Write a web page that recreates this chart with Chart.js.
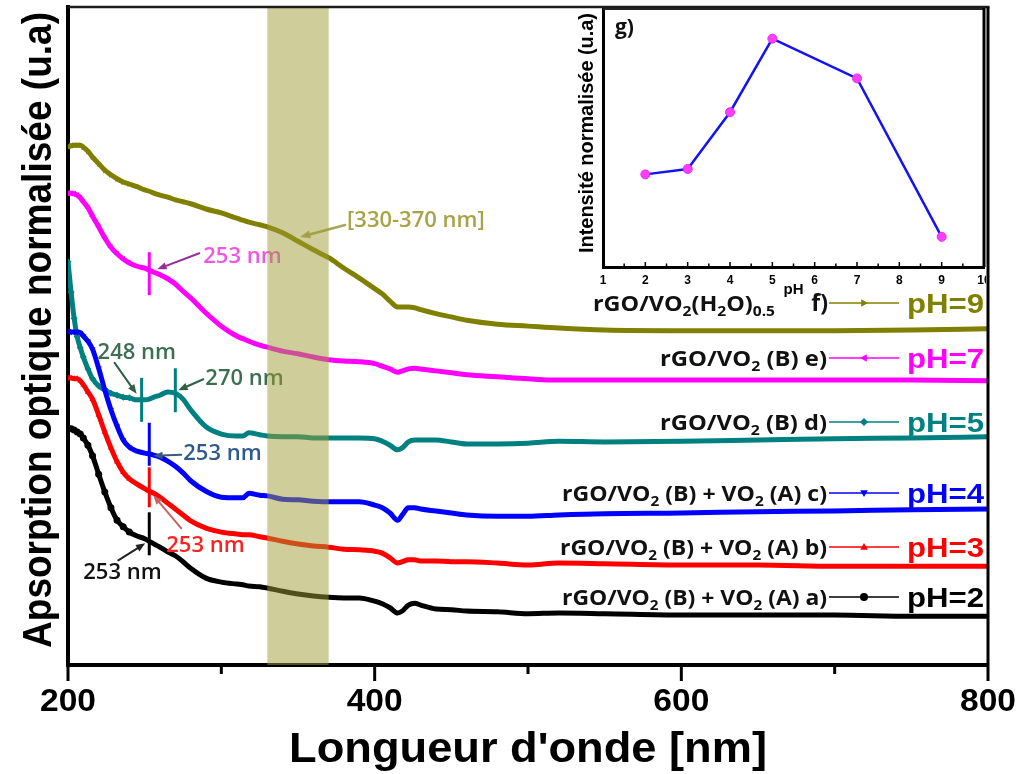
<!DOCTYPE html>
<html>
<head>
<meta charset="utf-8">
<script src="https://cdn.jsdelivr.net/npm/chart.js@4.4.1/dist/chart.umd.min.js"></script>
<style>
  html, body { margin: 0; padding: 0; background: #ffffff; }
  #wrap { position: relative; width: 1020px; height: 774px; overflow: hidden; }
  #main { position: absolute; left: 0; top: 0; }
  #inset { position: absolute; left: 560px; top: 0; }
</style>
</head>
<body>
<div id="wrap">
  <canvas id="main" width="1020" height="774"></canvas>
  <canvas id="inset" width="426" height="300"></canvas>
</div>
<script>
// ---------- spectra: normalised absorbance vs wavelength (nm) ----------
const wavelengths = [200,202,204,206,208,210,213,216,220,224,228,232,236,240,245,250,253,256,260,265,270,275,280,290,300,310,314,318,325,330,340,350,360,370,380,390,400,405,410,415,418,422,426,430,440,450,460,480,500,520,550,600,650,700,750,800];

const absorbancePH2 = [36.0,35.9,35.7,35.4,35.1,34.5,33.4,31.8,29.0,26.3,23.9,22.0,21.0,20.2,19.6,19.2,18.8,18.4,17.9,17.2,16.6,15.7,14.7,13.2,12.6,12.3,12.2,12.0,11.9,11.7,11.2,10.8,10.5,10.3,10.2,10.2,9.7,9.3,8.7,7.9,8.2,9.1,9.4,9.1,8.5,8.4,8.2,8.1,7.8,7.9,7.8,7.6,7.6,7.6,7.4,7.4];
const absorbancePH3 = [43.6,43.6,43.5,43.5,43.2,42.6,41.5,40.4,38.0,35.4,33.0,30.9,29.3,28.3,27.5,26.8,26.4,26.1,25.5,24.6,23.7,22.8,21.9,20.8,20.2,19.9,19.8,19.8,19.5,19.3,18.8,18.4,18.1,17.9,17.6,17.5,17.3,17.0,16.3,15.5,15.7,16.0,16.0,15.8,15.8,15.7,15.7,15.5,15.2,15.5,15.4,15.2,15.2,15.0,15.0,15.0];
const absorbancePH4 = [50.8,50.6,50.6,50.6,50.5,50.0,49.2,48.0,45.1,41.8,38.8,36.3,34.2,33.1,32.5,32.2,32.1,31.9,31.6,31.0,30.2,29.2,28.0,26.4,25.5,25.4,25.4,26.1,25.8,25.7,25.2,25.1,24.9,24.8,24.8,24.8,24.3,23.9,23.1,22.0,22.8,23.9,23.9,23.7,23.4,23.1,22.8,22.6,22.6,22.8,23.0,23.1,23.3,23.4,23.6,23.7];
const absorbancePH5 = [61.3,56.7,52.7,49.9,48.2,46.8,45.0,43.5,42.4,41.8,41.3,41.0,40.7,40.6,40.3,40.3,40.4,40.7,41.0,41.5,41.3,40.4,38.8,36.2,35.1,34.8,34.8,35.3,35.0,34.8,34.7,34.7,34.5,34.5,34.5,34.5,34.4,34.0,33.4,32.7,33.0,33.9,34.2,34.2,34.2,33.9,33.6,33.6,33.7,34.0,33.9,34.0,34.2,34.4,34.5,34.7];
const absorbancePH7 = [71.7,71.7,71.6,71.4,71.0,70.4,69.5,68.2,66.6,64.9,63.5,62.5,61.7,61.1,60.6,60.3,60.0,59.7,59.3,58.7,57.9,56.8,55.8,53.5,51.5,50.0,49.6,49.2,48.6,48.3,47.7,47.3,46.8,46.4,46.2,46.1,45.8,45.4,45.0,44.5,44.7,45.0,45.1,45.0,44.7,44.4,44.1,43.8,43.5,43.3,43.3,43.3,43.3,43.3,43.3,43.2];
const absorbancePH9 = [78.7,78.9,79.0,79.0,79.0,78.7,78.1,77.2,76.2,75.2,74.5,73.9,73.4,73.1,72.7,72.2,72.0,71.7,71.4,71.1,70.7,70.4,70.1,69.3,68.7,67.9,67.6,67.3,66.9,66.6,65.7,64.4,63.1,61.9,60.3,58.8,57.2,56.4,55.3,54.4,54.4,54.4,54.3,54.0,53.4,52.9,52.4,51.8,51.5,51.2,50.9,50.8,50.8,50.8,50.9,51.1];

const seriesNames = ['pH=2','pH=3','pH=4','pH=5','pH=7','pH=9'];
const sampleLetters = ['a)','b)','c)','d)','e)','f)'];
const xTickValues = [200,400,600,800];
const xMinorTickValues = [300,500,700];

// absorption features marked on the spectra
const peakLabels = ['253 nm','248 nm','270 nm','253 nm','253 nm','253 nm'];
const peakWavelengths = [253,248,270,253,253,253];
const peakSeries = ['pH=7','pH=5','pH=5','pH=4','pH=3','pH=2'];
const bandLabel = '[330-370 nm]';
const bandRange = [330,370];

// ---------- inset: normalised intensity vs pH ----------
const insetPH = [2,3,4,5,7,9];
const insetIntensity = [35.9,38.0,60.0,88.5,73.1,11.7];
const insetTickValues = [1,2,3,4,5,6,7,8,9,10];

// ---------- styling ----------
const seriesValues = [absorbancePH2,absorbancePH3,absorbancePH4,absorbancePH5,absorbancePH7,absorbancePH9];
const seriesColors = ['#000000','#ff0000','#0000ff','#008080','#ff00ff','#808000'];
const seriesMarkers = [
  {style:'circle', rot:0}, {style:'triangle', rot:0}, {style:'triangle', rot:180},
  {style:'rectRot', rot:0}, {style:'triangle', rot:-90}, {style:'triangle', rot:90}
];
const SANS = "'Liberation Sans',Arial,sans-serif";
const OPEN = "'Open Sans','Noto Sans',sans-serif";

function valueAt(arr, nm) {
  for (let i = 0; i < wavelengths.length - 1; i++) {
    const a = wavelengths[i], b = wavelengths[i + 1];
    if (nm >= a && nm <= b) return arr[i] + (arr[i + 1] - arr[i]) * (nm - a) / (b - a);
  }
  return arr[arr.length - 1];
}

function fitText(ctx, text, x, y, font, target, align, color) {
  ctx.save();
  ctx.font = font;
  const w = ctx.measureText(text).width;
  const sx = target ? target / w : 1;
  let left = x;
  if (align === 'center') left = x - w * sx / 2;
  else if (align === 'right') left = x - w * sx;
  ctx.translate(left, y);
  ctx.scale(sx, 1);
  ctx.fillStyle = color;
  ctx.textAlign = 'left';
  ctx.textBaseline = 'alphabetic';
  ctx.fillText(text, 0, 0);
  ctx.restore();
}

// rich text with subscripts, right aligned at xRight, vertically centred on yMid
function drawRich(ctx, parts, xRight, yMid, size, color, target) {
  const sub = Math.round(size * 0.66);
  const fontFor = k => `bold ${k ? sub : size}px ${OPEN}`;
  let nat = 0;
  for (const [t, k] of parts) { ctx.font = fontFor(k); nat += ctx.measureText(t).width; }
  const sx = target ? target / nat : 1;
  ctx.save();
  ctx.translate(xRight - nat * sx, yMid + size * 0.36);
  ctx.scale(sx, 1);
  ctx.fillStyle = color;
  ctx.textBaseline = 'alphabetic';
  let cx = 0;
  for (const [t, k] of parts) {
    ctx.font = fontFor(k);
    ctx.fillText(t, cx, k ? size * 0.26 : 0);
    cx += ctx.measureText(t).width;
  }
  ctx.restore();
}

function arrow(ctx, x1, y1, x2, y2, color, width, head) {
  const ang = Math.atan2(y2 - y1, x2 - x1);
  ctx.save();
  ctx.strokeStyle = color; ctx.fillStyle = color; ctx.lineWidth = width; ctx.lineCap = 'round';
  ctx.beginPath();
  ctx.moveTo(x1, y1);
  ctx.lineTo(x2 - Math.cos(ang) * head * 0.8, y2 - Math.sin(ang) * head * 0.8);
  ctx.stroke();
  ctx.beginPath();
  ctx.moveTo(x2, y2);
  ctx.lineTo(x2 - head * Math.cos(ang - 0.38), y2 - head * Math.sin(ang - 0.38));
  ctx.lineTo(x2 - head * Math.cos(ang + 0.38), y2 - head * Math.sin(ang + 0.38));
  ctx.closePath();
  ctx.fill();
  ctx.restore();
}

function marker(ctx, style, rot, x, y, r, color) {
  ctx.save();
  ctx.translate(x, y);
  ctx.rotate(rot * Math.PI / 180);
  ctx.fillStyle = color;
  ctx.beginPath();
  if (style === 'circle') ctx.arc(0, 0, r, 0, Math.PI * 2);
  else if (style === 'rectRot') { ctx.moveTo(0, -r); ctx.lineTo(r, 0); ctx.lineTo(0, r); ctx.lineTo(-r, 0); }
  else { ctx.moveTo(0, -r); ctx.lineTo(r * 0.95, r * 0.7); ctx.lineTo(-r * 0.95, r * 0.7); }
  ctx.closePath();
  ctx.fill();
  ctx.restore();
}

// per-feature drawing layout (offsets in px from the marked point on its curve)
const peakStyle = [
  {span:[-18,25], text:[54,-13], tail:[50,-17], tip:[8,-1], mark:'#ff00ff', txt:'#f055e6', arr:'#9b2a9b'},
  {span:[-22,22], text:[-44,-47], tail:[-27,-37], tip:[-5,-6], mark:'#008080', txt:'#3c6e50', arr:'#2f5f45'},
  {span:[-25,19], text:[30,-15], tail:[28,-14], tip:[3,-3], mark:'#008080', txt:'#3c6e50', arr:'#2f5f45'},
  {span:[-31,12], text:[34,0], tail:[32,1], tip:[4,2], mark:'#0000ff', txt:'#2e5a8c', arr:'#3a5878'},
  {span:[-24,16], text:[17,54], tail:[32,37], tip:[4,4], mark:'#ff0000', txt:'#ff2020', arr:'#c86464'},
  {span:[-29,14], text:[-66,31], tail:[-31,19], tip:[-4,2], mark:'#000000', txt:'#111111', arr:'#222222'}
];

// legend rows: sample description, line sample, pH label
const legendLayout = [
  {y:597, right:827, w:265},
  {y:547, right:827, w:267},
  {y:493, right:827, w:265},
  {y:422, right:827, w:167},
  {y:358, right:827, w:167},
  {y:303, right:775, w:182}
];
const vo2 = [['rGO/VO'],['2',1]];
const legendParts = [
  vo2.concat([[' (B) + VO'],['2',1],[' (A) a)']]),
  vo2.concat([[' (B) + VO'],['2',1],[' (A) b)']]),
  vo2.concat([[' (B) + VO'],['2',1],[' (A) c)']]),
  vo2.concat([[' (B) d)']]),
  vo2.concat([[' (B) e)']]),
  vo2.concat([['(H'],['2',1],['O)'],['0.5',1]])
];

const mainDecor = {
  id: 'mainDecor',
  beforeDraw(chart) {
    const ctx = chart.ctx;
    ctx.save(); ctx.fillStyle = '#ffffff'; ctx.fillRect(0, 0, chart.width, chart.height); ctx.restore();
  },
  afterDatasetsDraw(chart) {
    const ctx = chart.ctx, xs = chart.scales.x, ys = chart.scales.y, area = chart.chartArea;

    // feature markers, arrows and labels
    peakLabels.forEach((label, i) => {
      const st = peakStyle[i];
      const arr = seriesValues[seriesNames.indexOf(peakSeries[i])];
      const mx = xs.getPixelForValue(peakWavelengths[i]);
      const my = ys.getPixelForValue(valueAt(arr, peakWavelengths[i]));
      ctx.save();
      ctx.strokeStyle = st.mark; ctx.lineWidth = 3;
      ctx.beginPath(); ctx.moveTo(mx, my + st.span[0]); ctx.lineTo(mx, my + st.span[1]); ctx.stroke();
      ctx.restore();
      arrow(ctx, mx + st.tail[0], my + st.tail[1], mx + st.tip[0], my + st.tip[1], st.arr, 2, 10);
      ctx.save();
      ctx.font = `600 22px ${OPEN}`; ctx.fillStyle = st.txt; ctx.textBaseline = 'middle'; ctx.textAlign = 'left';
      ctx.fillText(label, mx + st.text[0], my + st.text[1]);
      ctx.restore();
    });

    // wavelength window label
    const bx = xs.getPixelForValue(352);
    const by = ys.getPixelForValue(valueAt(absorbancePH9, 352));
    arrow(ctx, bx + 44, by - 18, bx - 1, by - 6, '#a8a458', 2.5, 11);
    ctx.save();
    ctx.font = `600 22px ${OPEN}`; ctx.fillStyle = '#a9a347'; ctx.textBaseline = 'middle';
    ctx.fillText(bandLabel, bx + 46, by - 22);
    ctx.restore();

    // translucent wavelength window
    const b0 = xs.getPixelForValue(bandRange[0]), b1 = xs.getPixelForValue(bandRange[1]);
    ctx.save();
    ctx.fillStyle = 'rgba(159,155,51,0.5)';
    ctx.fillRect(b0, area.top, b1 - b0, area.bottom - area.top);
    ctx.restore();
  },
  afterDraw(chart) {
    const ctx = chart.ctx, xs = chart.scales.x, area = chart.chartArea;

    // frame (top and right)
    ctx.save();
    ctx.strokeStyle = '#1a1a1a'; ctx.lineWidth = 2.5;
    ctx.beginPath(); ctx.moveTo(area.left, area.top); ctx.lineTo(area.right + 1.5, area.top); ctx.stroke();
    ctx.strokeStyle = '#000'; ctx.lineWidth = 3;
    ctx.beginPath(); ctx.moveTo(area.right, area.top); ctx.lineTo(area.right, area.bottom); ctx.stroke();
    // x tick marks (outside), long at labelled values
    ctx.lineWidth = 3;
    xTickValues.concat(xMinorTickValues).forEach(v => {
      const px = xs.getPixelForValue(v);
      const len = xTickValues.includes(v) ? 16 : 9;
      ctx.beginPath(); ctx.moveTo(px, area.bottom); ctx.lineTo(px, area.bottom + len); ctx.stroke();
    });
    ctx.restore();
    // x tick labels
    xTickValues.forEach(v => {
      fitText(ctx, String(v), xs.getPixelForValue(v), 711, `bold 31px ${SANS}`, 56, 'center', '#000');
    });

    // axis titles
    fitText(ctx, "Longueur d'onde [nm]", 528, 762, `bold 42px ${SANS}`, 478, 'center', '#000');
    ctx.save();
    ctx.translate(51, 330);
    ctx.rotate(-Math.PI / 2);
    fitText(ctx, 'Apsorption optique normalisée (u.a)', 0, 0, `bold 40px ${SANS}`, 636, 'center', '#000');
    ctx.restore();

    // legend
    legendLayout.forEach((row, i) => {
      drawRich(ctx, legendParts[i], row.right, row.y, 21, '#111111', row.w);
      if (i === 5) drawRich(ctx, [['f)']], 828, row.y, 23, '#111111', 0);
      ctx.save();
      ctx.strokeStyle = seriesColors[i]; ctx.lineWidth = 1.5;
      ctx.beginPath(); ctx.moveTo(829, row.y); ctx.lineTo(899, row.y); ctx.stroke();
      ctx.restore();
      marker(ctx, seriesMarkers[i].style, seriesMarkers[i].rot, 864, row.y, 4, seriesColors[i]);
      fitText(ctx, seriesNames[i], 907, row.y + 9.5, `bold 27px ${SANS}`, 77, 'left', seriesColors[i]);
    });
  }
};

new Chart(document.getElementById('main'), {
  type: 'line',
  data: {
    datasets: seriesNames.map((name, i) => ({
      label: name,
      data: wavelengths.map((w, j) => ({x: w, y: seriesValues[i][j]})),
      borderColor: seriesColors[i],
      backgroundColor: seriesColors[i],
      borderWidth: 5,
      cubicInterpolationMode: 'monotone',
      pointStyle: seriesMarkers[i].style,
      pointRotation: seriesMarkers[i].rot,
      pointRadius: c => (c.raw && c.raw.x <= 240 ? 3.5 : 0),
      pointBorderWidth: 0,
      fill: false
    }))
  },
  options: {
    responsive: false,
    animation: false,
    events: [],
    layout: { autoPadding: false, padding: { top: 7, right: 32, left: 0, bottom: 0 } },
    plugins: { legend: { display: false }, tooltip: { enabled: false } },
    scales: {
      x: {
        type: 'linear', min: 200, max: 800,
        afterBuildTicks: s => { s.ticks = xTickValues.map(v => ({value: v})); },
        ticks: { display: false },
        grid: { display: false },
        border: { display: true, width: 4, color: '#000' },
        afterFit: s => { s.height = 109; }
      },
      y: {
        min: 0, max: 100,
        ticks: { display: false },
        grid: { display: false },
        border: { display: true, width: 4, color: '#000' },
        afterFit: s => { s.width = 68; }
      }
    }
  },
  plugins: [mainDecor]
});

// ---------- inset ----------
const insetDecor = {
  id: 'insetDecor',
  afterDraw(chart) {
    const ctx = chart.ctx, xs = chart.scales.x, area = chart.chartArea;
    ctx.save();
    ctx.strokeStyle = '#222'; ctx.lineWidth = 2;
    ctx.beginPath(); ctx.moveTo(area.left, area.top); ctx.lineTo(area.right, area.top); ctx.stroke();
    ctx.strokeStyle = '#000'; ctx.lineWidth = 3;
    ctx.beginPath(); ctx.moveTo(area.right, area.top - 1); ctx.lineTo(area.right, area.bottom); ctx.stroke();
    // inward tick marks, with minor ticks halfway
    ctx.lineWidth = 1.5;
    for (let v = 1; v <= 10; v += 0.5) {
      const px = xs.getPixelForValue(v);
      const len = Number.isInteger(v) ? 5 : 3.5;
      ctx.beginPath(); ctx.moveTo(px, area.bottom); ctx.lineTo(px, area.bottom - len); ctx.stroke();
    }
    ctx.restore();
    insetTickValues.forEach(v => {
      fitText(ctx, String(v), xs.getPixelForValue(v), area.bottom + 17, `bold 12px ${SANS}`, 0, 'center', '#000');
    });
    fitText(ctx, 'g)', 55, 34, `bold 21px ${OPEN}`, 0, 'left', '#111');
    ctx.save();
    ctx.translate(33, 133);
    ctx.rotate(-Math.PI / 2);
    fitText(ctx, 'Intensité normalisée (u.a)', 0, 0, `bold 20px ${SANS}`, 240, 'center', '#000');
    ctx.restore();
  }
};

new Chart(document.getElementById('inset'), {
  type: 'line',
  data: {
    datasets: [{
      data: insetPH.map((p, i) => ({x: p, y: insetIntensity[i]})),
      borderColor: '#1414f0',
      borderWidth: 2.5,
      tension: 0,
      pointStyle: 'circle',
      pointRadius: 4.5,
      pointBackgroundColor: '#ff3cff',
      pointBorderColor: '#e62ee6',
      pointBorderWidth: 1,
      fill: false
    }]
  },
  options: {
    responsive: false,
    animation: false,
    events: [],
    layout: { autoPadding: false, padding: { top: 9, right: 2, left: 0, bottom: 0 } },
    plugins: { legend: { display: false }, tooltip: { enabled: false } },
    scales: {
      x: {
        type: 'linear', min: 1, max: 10,
        afterBuildTicks: s => { s.ticks = insetTickValues.map(v => ({value: v})); },
        ticks: { display: false },
        grid: { display: false },
        border: { display: true, width: 3, color: '#000' },
        title: { display: true, text: 'pH', color: '#000', font: { family: SANS, weight: 'bold', size: 15 }, padding: { top: 0, bottom: 1 } },
        afterFit: s => { s.height = 33; }
      },
      y: {
        min: 0, max: 100,
        ticks: { display: false },
        grid: { display: false },
        border: { display: true, width: 3, color: '#000' },
        afterFit: s => { s.width = 43; }
      }
    }
  },
  plugins: [insetDecor]
});
</script>
</body>
</html>
